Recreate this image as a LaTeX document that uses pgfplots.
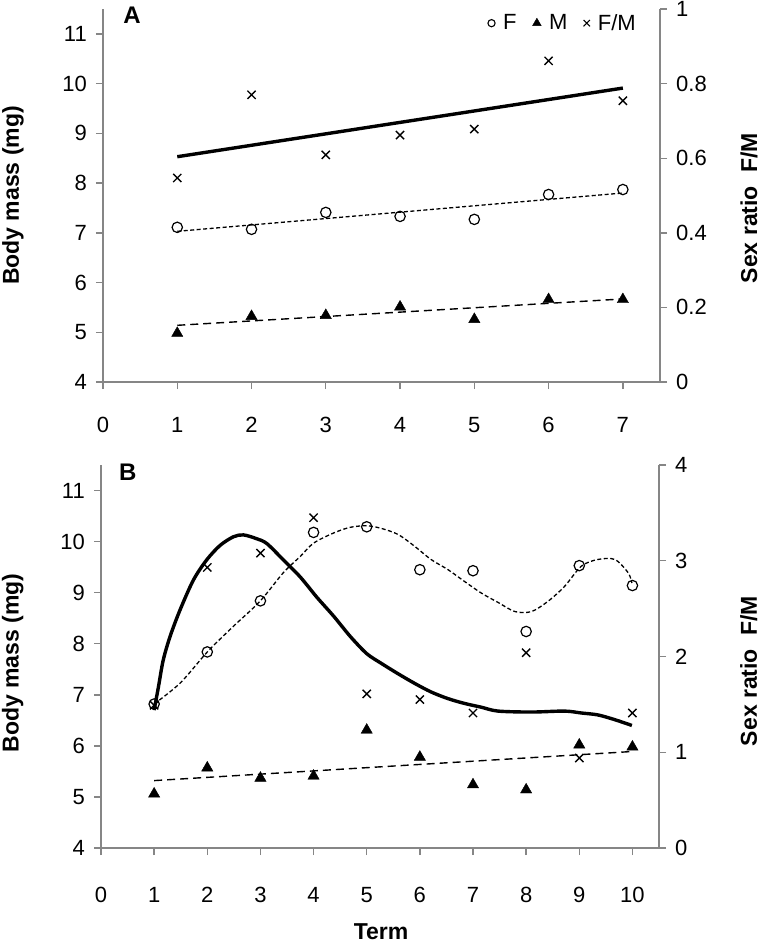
\documentclass[border=0pt]{standalone}
\usepackage{fontspec}
\setmainfont{Liberation Sans}
\usepackage{pgfplots}
\pgfplotsset{compat=1.18}
\definecolor{axisgray}{RGB}{134,134,134}
\newcommand\tickfont{\fontsize{22}{26}\selectfont}
\newcommand\labfont{\fontsize{23}{27}\selectfont\bfseries}
\pgfplotsset{
  base/.style={
    scale only axis, anchor=south west,
    /pgf/number format/assume math mode=true,
    axis line style={draw=axisgray, line width=1.6pt},
    tick style={draw=axisgray, line width=1.4pt},
    tick align=outside, major tick length=7pt,
    tick label style={font=\tickfont},
    label style={font=\labfont},
    clip=false,
  },
  lefty/.style={axis x line*=bottom, axis y line*=left,
    yticklabel style={anchor=east, inner sep=0pt, xshift=-9pt},
    xticklabel style={anchor=center, inner sep=0pt},
  },
  righty/.style={axis x line=none, axis y line*=right,
    yticklabel style={anchor=west, inner sep=0pt, xshift=9pt},
  },
  fpts/.style={only marks, mark=o, mark size=5.2pt, mark options={line width=1.2pt, black}},
  mpts/.style={only marks, mark=triangle*, mark size=6.5pt, mark options={black}},
  xpts/.style={only marks, mark=x, mark size=5.8pt, mark options={line width=1.4pt, black}},
  fline/.style={black, line width=1.3pt, dash pattern=on 4pt off 2.5pt},
  mline/.style={black, line width=1.4pt, dash pattern=on 8pt off 5pt},
  rline/.style={black, line width=3.4pt},
}
\begin{document}
\begin{tikzpicture}[x=1pt,y=1pt]
\path[use as bounding box] (0,0) rectangle (762,-943);

% ---------- Panel A, left axis ----------
\begin{axis}[base, lefty,
  at={(103pt,-382pt)}, width=557pt, height=373pt,
  xmin=0, xmax=7.5, ymin=4, ymax=11.5,
  xtick={0,...,7}, ytick={4,...,11},
  xticklabel style={yshift=-36pt},
  ylabel={Body mass (mg)},
  ylabel style={at={(axis description cs:-0.1616,0.5)}, anchor=center},
]
\addplot[fpts] coordinates {(1,7.11) (2,7.07) (3,7.41) (4,7.33) (5,7.27) (6,7.77) (7,7.87)};
\addplot[mpts] coordinates {(1,4.98) (2,5.32) (3,5.34) (4,5.51) (5,5.26) (6,5.66) (7,5.66)};
\addplot[fline] coordinates {(1,7.03) (7,7.80)};
\addplot[mline] coordinates {(1,5.14) (7,5.67)};
\node[font=\fontsize{24}{28}\selectfont\bfseries] at (axis description cs:0.052,0.984) {A};
\end{axis}

% ---------- Panel A, right axis ----------
\begin{axis}[base, righty,
  at={(103pt,-382pt)}, width=557pt, height=373pt,
  xmin=0, xmax=7.5, ymin=0, ymax=1,
  ytick={0,0.2,0.4,0.6,0.8,1},
  ylabel={Sex ratio\hspace{0.3em} F/M},
  ylabel style={at={(axis description cs:1.160,0.466)}, anchor=center},
  legend columns=3,
  legend style={draw=none, fill=none, font=\tickfont, inner sep=0pt,
    at={(axis description cs:0.9605,0.962)}, anchor=east,
    /tikz/every even column/.append style={column sep=14pt},
    /tikz/every odd column/.append style={column sep=6pt},
    nodes={inner sep=2pt}},
]
\addlegendimage{only marks, mark=o, mark size=3.6pt, mark options={line width=1.1pt, black}}
\addlegendentry{F}
\addlegendimage{only marks, mark=triangle*, mark size=5pt, mark options={black}}
\addlegendentry{M}
\addlegendimage{only marks, mark=x, mark size=4.5pt, mark options={line width=1.1pt, black}}
\addlegendentry{F/M}
\addplot[xpts, forget plot] coordinates {(1,0.547) (2,0.770) (3,0.609) (4,0.662) (5,0.678) (6,0.861) (7,0.754)};
\addplot[rline, forget plot] coordinates {(1,0.604) (7,0.788)};
\end{axis}

% ---------- Panel B, left axis ----------
\begin{axis}[base, lefty,
  at={(101pt,-848pt)}, width=558pt, height=383pt,
  xmin=0, xmax=10.5, ymin=4, ymax=11.5,
  xtick={0,...,10}, ytick={4,...,11},
  xticklabel style={yshift=-40pt},
  ylabel={Body mass (mg)},
  ylabel style={at={(axis description cs:-0.158,0.483)}, anchor=center},
  xlabel={Term},
  xlabel style={at={(axis description cs:0.502,-0.219)}, anchor=center},
]
\addplot[fpts] coordinates {(1,6.82) (2,7.84) (3,8.84) (4,10.18) (5,10.29) (6,9.45) (7,9.43) (8,8.24) (9,9.53) (10,9.14)};
\addplot[mpts] coordinates {(1,5.06) (2,5.57) (3,5.37) (4,5.41) (5,6.31) (6,5.78) (7,5.24) (8,5.14) (9,6.02) (10,5.98)};
\addplot[fline, smooth] coordinates {(1.00,6.82) (1.49,7.23) (2.01,7.85) (2.49,8.34) (2.99,8.83) (3.43,9.39) (3.75,9.71) (4.00,9.97) (4.38,10.17) (4.69,10.28) (5.00,10.31) (5.27,10.26) (5.59,10.14) (5.90,9.91) (6.21,9.65) (6.53,9.45) (6.84,9.22) (7.16,8.99) (7.47,8.81) (7.79,8.63) (8.10,8.63) (8.41,8.83) (8.72,9.12) (9.04,9.52) (9.35,9.65) (9.67,9.65) (9.92,9.39) (9.99,9.19)};
\addplot[mline] coordinates {(1,5.32) (10,5.89)};
\node[font=\fontsize{24}{28}\selectfont\bfseries] at (axis description cs:0.048,0.982) {B};
\end{axis}

% ---------- Panel B, right axis ----------
\begin{axis}[base, righty,
  at={(101pt,-848pt)}, width=558pt, height=383pt,
  xmin=0, xmax=10.5, ymin=0, ymax=4,
  ytick={0,1,2,3,4},
  ylabel={Sex ratio\hspace{0.3em} F/M},
  ylabel style={at={(axis description cs:1.161,0.462)}, anchor=center},
]
\addplot[xpts] coordinates {(1,1.49) (2,2.93) (3,3.08) (4,3.45) (5,1.61) (6,1.55) (7,1.41) (8,2.04) (9,0.94) (10,1.41)};
\addplot[rline, smooth] coordinates {(1.00,1.44) (1.08,1.68) (1.17,1.96) (1.30,2.21) (1.49,2.49) (1.74,2.80) (1.99,3.01) (2.24,3.16) (2.49,3.25) (2.68,3.27) (2.93,3.23) (3.12,3.18) (3.43,3.01) (3.75,2.83) (4.06,2.62) (4.38,2.42) (4.69,2.21) (5.00,2.03) (5.27,1.93) (5.59,1.82) (5.90,1.72) (6.21,1.63) (6.53,1.56) (6.84,1.51) (7.16,1.47) (7.47,1.43) (8.10,1.42) (8.72,1.43) (9.04,1.41) (9.35,1.39) (9.67,1.34) (9.99,1.28)};
\end{axis}
\end{tikzpicture}
\end{document}
